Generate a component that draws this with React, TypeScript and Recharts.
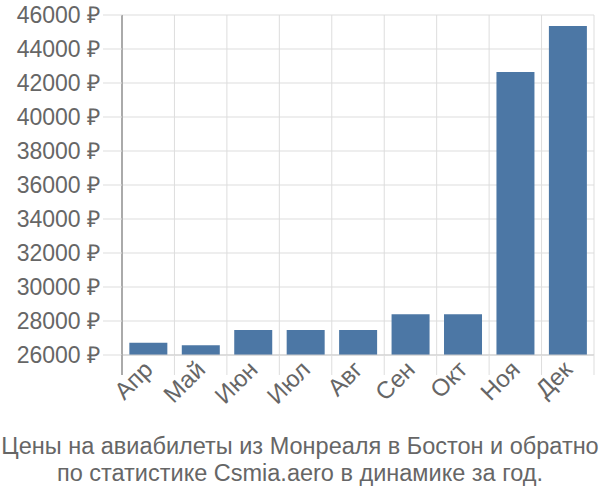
import React from 'react';
import { BarChart, Bar, XAxis, YAxis, CartesianGrid } from 'recharts';

const months = ['Апр', 'Май', 'Июн', 'Июл', 'Авг', 'Сен', 'Окт', 'Ноя', 'Дек'];
const prices = [26720, 26570, 27470, 27470, 27470, 28390, 28390, 42650, 45350];
const yTicks = [26000, 28000, 30000, 32000, 34000, 36000, 38000, 40000, 42000, 44000, 46000];
const titleLines = [
  'Цены на авиабилеты из Монреаля в Бостон и обратно',
  'по статистике Csmia.aero в динамике за год.',
];

const W = 600;
const H = 500;
const margin = { top: 15, right: 6, left: 0, bottom: 75 };
const yAxisWidth = 122;
const xAxisHeight = 70;
const plotWidth = W - margin.left - margin.right - yAxisWidth;
const band = plotWidth / months.length;
const font = '"Liberation Sans", Arial, sans-serif';

const data = months.map((m, i) => ({ month: m, price: prices[i] }));

function MonthTick(props: any) {
  const { x, y, payload, index } = props;
  const left = x - band / 2;
  const right = x + band / 2;
  const tx = x + 6;
  const ty = y + 16;
  return (
    <g>
      <line x1={left} y1={y} x2={left} y2={y + 20} stroke={index === 0 ? '#aaa' : '#ddd'} strokeWidth={index === 0 ? 2 : 1} />
      {index === months.length - 1 && <line x1={right} y1={y} x2={right} y2={y + 20} stroke="#ddd" />}
      <text
        x={tx}
        y={ty}
        textAnchor="end"
        transform={`rotate(-45, ${tx}, ${ty})`}
        fill="#666"
        fontSize={24}
        fontFamily={font}
      >
        {payload.value}
      </text>
    </g>
  );
}

export default function App() {
  return (
    <div style={{ position: 'absolute', left: 0, top: 0, width: W, height: H, background: '#fff' }}>
      <BarChart width={W} height={H} data={data} margin={margin} barCategoryGap="14%">
        <CartesianGrid
          stroke="#ddd"
          verticalCoordinatesGenerator={({ offset }: any) =>
            months.map((_, i) => offset.left + i * band).concat(offset.left + plotWidth)
          }
        />
        <XAxis
          dataKey="month"
          height={xAxisHeight}
          interval={0}
          tickSize={0}
          tickMargin={0}
          tickLine={false}
          axisLine={{ stroke: '#ccc' }}
          tick={<MonthTick />}
        />
        <YAxis
          width={yAxisWidth}
          domain={[26000, 46000]}
          ticks={yTicks}
          interval={0}
          allowDataOverflow
          tickSize={19}
          tickMargin={3}
          tickLine={{ stroke: '#ddd' }}
          axisLine={{ stroke: '#aaa', strokeWidth: 2 }}
          tick={{ fill: '#666', fontSize: 23, fontFamily: font }}
          tickFormatter={(v: number) => `${v} ₽`}
        />
        <Bar dataKey="price" fill="#4c77a5" isAnimationActive={false} />
      </BarChart>
      <div
        style={{
          position: 'absolute',
          left: 0,
          top: 433,
          width: W,
          textAlign: 'center',
          fontFamily: font,
          fontSize: 23.5,
          lineHeight: '27px',
          color: '#666',
          whiteSpace: 'nowrap',
        }}
      >
        {titleLines.map((l) => (
          <div key={l}>{l}</div>
        ))}
      </div>
    </div>
  );
}
